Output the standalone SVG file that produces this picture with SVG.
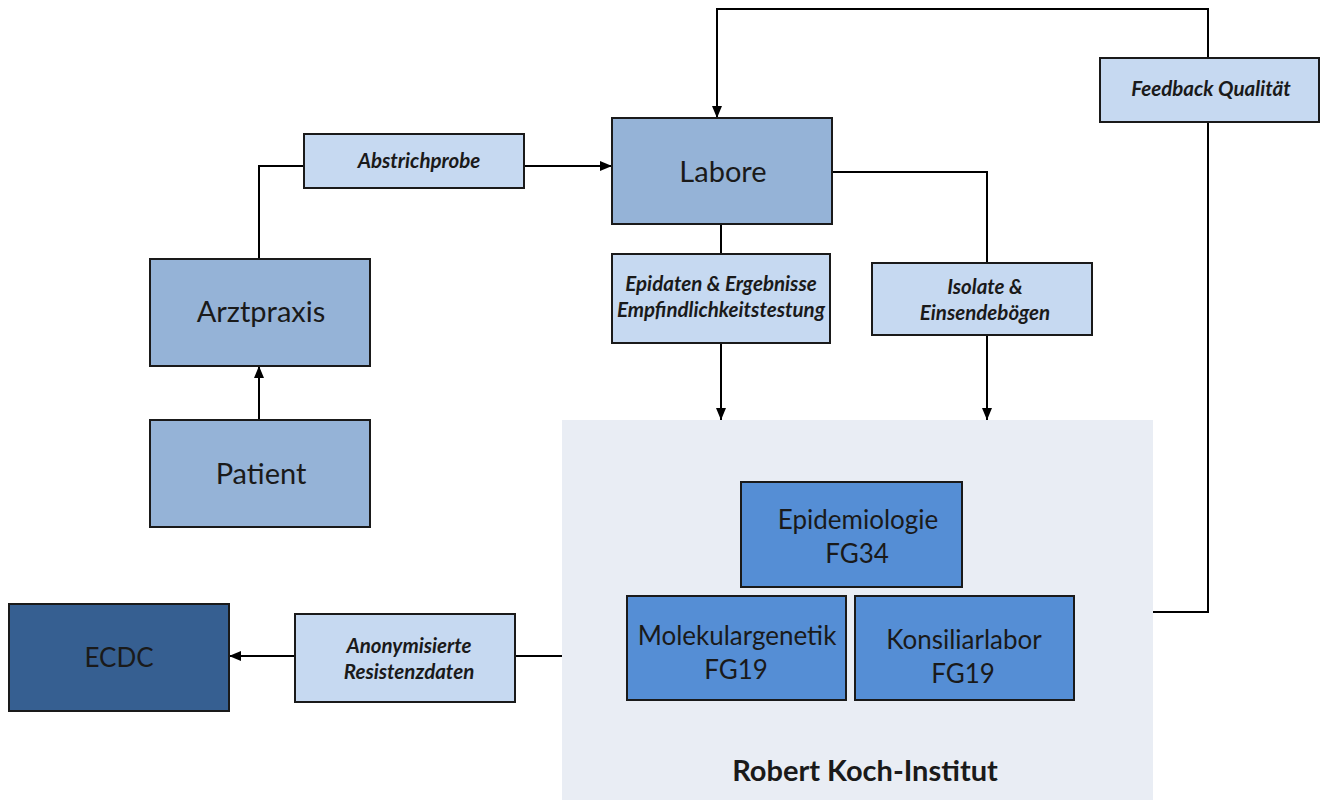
<svg xmlns="http://www.w3.org/2000/svg" width="1328" height="800" viewBox="0 0 1328 800">
<defs>
<marker id="arr" viewBox="0 0 12 10" refX="12" refY="5" markerWidth="12" markerHeight="10" markerUnits="userSpaceOnUse" orient="auto">
<path d="M0,0 L12,5 L0,10 z" fill="#000"/>
</marker>
<style>
.main{fill:#95B3D7;stroke:#1a1a1a;stroke-width:2}
.lbl{fill:#C6D9F1;stroke:#1a1a1a;stroke-width:2}
.rki{fill:#558ED5;stroke:#1a1a1a;stroke-width:2}
.ecdc{fill:#365F91;stroke:#1a1a1a;stroke-width:2}
.conn{fill:none;stroke:#000;stroke-width:2}
text{font-family:Lato,"Open Sans","Liberation Sans",sans-serif;fill:#1a1a1a;text-anchor:middle}
.big{font-size:29px}
.mid{font-size:26px}
.it{font-size:20.5px;font-style:italic;font-weight:bold}
.title{font-size:29px;font-weight:bold}
</style>
</defs>
<rect width="1328" height="800" fill="#fff"/>
<rect id="rki-panel" x="562" y="420" width="591" height="380" fill="#E9EDF4"/>
<g id="connectors">
<polyline class="conn" points="259,259 259,166 304,166"/>
<line class="conn" x1="524" y1="166" x2="612" y2="166" marker-end="url(#arr)"/>
<line class="conn" x1="259" y1="420" x2="259" y2="366" marker-end="url(#arr)"/>
<line class="conn" x1="721" y1="224" x2="721" y2="254"/>
<line class="conn" x1="721" y1="343" x2="721" y2="420" marker-end="url(#arr)"/>
<polyline class="conn" points="832,172 987,172 987,263"/>
<line class="conn" x1="987" y1="335" x2="987" y2="420" marker-end="url(#arr)"/>
<polyline class="conn" points="1208,58 1208,9 717,9 717,118" marker-end="url(#arr)"/>
<polyline class="conn" points="1208,122 1208,612 1153,612"/>
<line class="conn" x1="562" y1="656" x2="515" y2="656"/>
<line class="conn" x1="295" y1="656" x2="229" y2="656" marker-end="url(#arr)"/>
</g>
<g id="arztpraxis"><rect class="main" x="150" y="259" width="220" height="107"/><text class="big" x="261" y="322">Arztpraxis</text></g>
<g id="patient"><rect class="main" x="150" y="420" width="220" height="107"/><text class="big" x="261" y="484">Patient</text></g>
<g id="labore"><rect class="main" x="612" y="118" width="220" height="106"/><text class="big" x="723" y="182">Labore</text></g>
<g id="abstrichprobe"><rect class="lbl" x="304" y="134" width="220" height="54"/><text class="it" x="419" y="168">Abstrichprobe</text></g>
<g id="epidaten"><rect class="lbl" x="612" y="254" width="218" height="89"/><text class="it" x="721" y="291">Epidaten &amp; Ergebnisse</text><text class="it" x="721" y="317">Empfindlichkeitstestung</text></g>
<g id="isolate"><rect class="lbl" x="872" y="263" width="220" height="72"/><text class="it" x="985" y="294">Isolate &amp;</text><text class="it" x="985" y="320">Einsendebögen</text></g>
<g id="feedback"><rect class="lbl" x="1100" y="58" width="219" height="64"/><text class="it" x="1211" y="96">Feedback Qualität</text></g>
<g id="anonym"><rect class="lbl" x="295" y="614" width="220" height="88"/><text class="it" x="409" y="653">Anonymisierte</text><text class="it" x="409" y="679">Resistenzdaten</text></g>
<g id="ecdc"><rect class="ecdc" x="9" y="604" width="220" height="107"/><text class="mid" x="119" y="667">ECDC</text></g>
<g id="epidemiologie"><rect class="rki" x="741" y="482" width="221" height="105"/><text class="mid" x="858" y="529">Epidemiologie</text><text class="mid" x="857" y="563">FG34</text></g>
<g id="molekulargenetik"><rect class="rki" x="627" y="596" width="219" height="104"/><text class="mid" x="737" y="645">Molekulargenetik</text><text class="mid" x="736" y="679">FG19</text></g>
<g id="konsiliarlabor"><rect class="rki" x="855" y="596" width="219" height="104"/><text class="mid" x="964" y="649">Konsiliarlabor</text><text class="mid" x="963" y="683">FG19</text></g>
<text class="title" x="865" y="781">Robert Koch-Institut</text>
</svg>
